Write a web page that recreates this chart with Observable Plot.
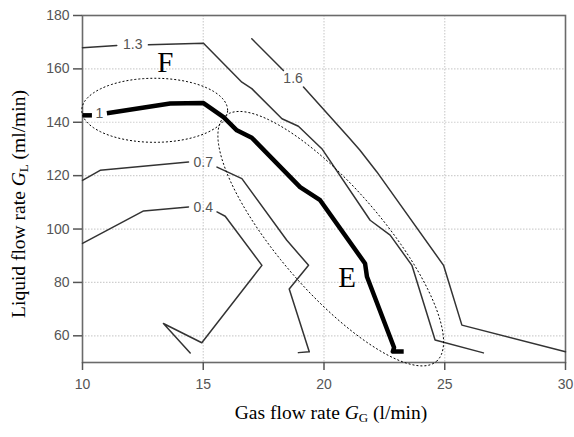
<!DOCTYPE html>
<html>
<head>
<meta charset="utf-8">
<script src="https://cdn.jsdelivr.net/npm/d3@7"></script>
<script src="https://cdn.jsdelivr.net/npm/@observablehq/plot@0.6"></script>
<style>
  html, body { margin: 0; padding: 0; background: #fff; }
  #chart { width: 574px; height: 437px; }
</style>
</head>
<body>
<div id="chart"></div>
<script>
// ---- Data (x: gas flow l/min, y: liquid flow ml/min) ----
const xTicks = [10, 15, 20, 25, 30];
const yTicks = [60, 80, 100, 120, 140, 160, 180];

const contourLevels = ["0.4", "0.7", "1", "1.3", "1.6"];

// each contour: list of segments (gaps where the level label sits)
const contour04 = [
  [[10, 94.6], [12.53, 106.8], [14.39, 108.3]],
  [[15.57, 106.4], [15.91, 104.8], [17.43, 86.4], [14.94, 57.4], [13.35, 64.6], [14.46, 53.6]]
];
const contour07 = [
  [[10, 118.2], [10.73, 122.0], [14.39, 125.1]],
  [[15.57, 123.2], [16.60, 118.9], [18.46, 95.8], [19.36, 86.4], [18.56, 77.5], [19.39, 54.0], [18.94, 53.7]]
];
const contour10 = [
  [[10, 142.6], [10.39, 142.6]],
  [[11.01, 143.4], [13.63, 147.0], [15.01, 147.2], [15.84, 141.9], [16.39, 137.0], [17.01, 134.2],
   [19.01, 115.7], [19.84, 110.8], [21.70, 87.1], [21.78, 82.1], [22.90, 55.6], [22.85, 54.1], [23.30, 54.1]]
];
const contour13 = [
  [[10, 167.9], [11.42, 168.8]],
  [[12.73, 169.0], [15.01, 169.6], [16.60, 155.0], [17.01, 152.6], [18.26, 141.3], [18.94, 138.5],
   [19.91, 130.1], [21.91, 103.3], [22.74, 97.7], [23.64, 86.4], [24.60, 58.4], [26.60, 53.6]]
];
const contour16 = [
  [[17.01, 171.3], [18.32, 159.4]],
  [[19.15, 153.2], [21.01, 134.5], [21.49, 129.5], [22.19, 121.4], [24.95, 86.4], [25.71, 64.0], [30, 54.0]]
];
const contourData = [contour04, contour07, contour10, contour13, contour16];

// label positions of each level
const labelX = [15.0, 15.0, 10.70, 12.08, 18.72];
const labelY = [108.1, 125.0, 143.2, 169.0, 156.4];

// dotted ellipses (center, end of one semi-axis, end of the conjugate semi-axis)
const ellipseNames = ["F", "E"];
const ellipseCenter = [[13.01, 144.3], [20.30, 96.2]];
const ellipseMajorEnd = [[16.03, 144.3], [24.68, 50.25]];
const ellipseMinorEnd = [[13.01, 156.3], [21.93, 108.9]];

// region letters
const regionLetters = ["F", "E"];
const regionX = [13.43, 20.96];
const regionY = [162.4, 81.6];

// ---- Build tables ----
const rows = [];
contourData.forEach((segs, li) => {
  segs.forEach((seg, si) => {
    seg.forEach(([x, y]) => rows.push({level: contourLevels[li], seg: contourLevels[li] + "-" + si, x, y}));
  });
});
const labels = contourLevels.map((l, i) => ({level: l, x: labelX[i], y: labelY[i]}));
const letters = regionLetters.map((t, i) => ({t, x: regionX[i], y: regionY[i]}));

function ellipseMark(index, scales) {
  const g = d3.create("svg:g").attr("fill", "none").attr("stroke", "#000")
    .attr("stroke-width", 1).attr("stroke-dasharray", "2,2");
  ellipseNames.forEach((n, i) => {
    const cx = scales.x(ellipseCenter[i][0]), cy = scales.y(ellipseCenter[i][1]);
    const ax = scales.x(ellipseMajorEnd[i][0]) - cx, ay = scales.y(ellipseMajorEnd[i][1]) - cy;
    const bx = scales.x(ellipseMinorEnd[i][0]) - cx, by = scales.y(ellipseMinorEnd[i][1]) - cy;
    const pts = d3.range(0, 121).map(k => {
      const t = (k / 120) * 2 * Math.PI;
      return [cx + Math.cos(t) * ax + Math.sin(t) * bx, cy + Math.cos(t) * ay + Math.sin(t) * by];
    });
    g.append("path").attr("d", d3.line()(pts) + "Z");
  });
  return g.node();
}

const plot = Plot.plot({
  width: 574,
  height: 437,
  marginLeft: 82,
  marginRight: 9,
  marginTop: 15,
  marginBottom: 75,
  style: {fontFamily: "Liberation Sans, Arial, sans-serif", fontSize: "14px", background: "#fff"},
  x: {domain: [10, 30]},
  y: {domain: [50, 180]},
  marks: [
    Plot.gridX([15, 20, 25], {stroke: "#cfcfcf", strokeOpacity: 1, strokeWidth: 1.2, strokeDasharray: "1.5,1.5"}),
    Plot.gridY([60, 80, 100, 120, 140, 160], {stroke: "#cfcfcf", strokeOpacity: 1, strokeWidth: 1.2, strokeDasharray: "1.5,1.5"}),
    Plot.frame({stroke: "#6a6a6a", strokeWidth: 1.6}),
    Plot.line(rows.filter(d => d.level !== "1"), {x: "x", y: "y", z: "seg", stroke: "#333", strokeWidth: 1.5, strokeLinejoin: "round"}),
    Plot.line(rows.filter(d => d.level === "1"), {x: "x", y: "y", z: "seg", stroke: "#000", strokeWidth: 4.5, strokeLinejoin: "round", strokeLinecap: "butt"}),
    Plot.text(labels, {x: "x", y: "y", text: "level", fill: "#555", fontSize: 14, textAnchor: "middle"}),
    ellipseMark,
    Plot.text(letters, {x: "x", y: "y", text: "t", fill: "#000", fontSize: 29, fontFamily: "Liberation Serif, Times New Roman, serif"}),
    Plot.axisX(xTicks, {anchor: "bottom", tickSize: 8, tickPadding: 9, color: "#555", strokeWidth: 1.5, fontSize: 14, label: null}),
    Plot.axisY(yTicks, {anchor: "left", tickSize: 9, tickPadding: 4, color: "#555", strokeWidth: 1.5, fontSize: 14, label: null})
  ]
});

document.getElementById("chart").appendChild(plot);

// ---- Axis titles (serif, italic symbol with subscript) ----
const svg = d3.select(plot);
const serif = "Liberation Serif, Times New Roman, serif";
const xt = svg.append("text")
  .attr("x", 331).attr("y", 419)
  .attr("text-anchor", "middle")
  .attr("font-family", serif).attr("font-size", 19.5).attr("fill", "#000");
xt.append("tspan").text("Gas flow rate ");
xt.append("tspan").attr("font-style", "italic").text("G");
xt.append("tspan").attr("font-size", 13).attr("dy", 3).text("G");
xt.append("tspan").attr("dy", -3).text(" (l/min)");

const yt = svg.append("text")
  .attr("transform", "translate(25,204) rotate(-90)")
  .attr("text-anchor", "middle")
  .attr("font-family", serif).attr("font-size", 19.5).attr("fill", "#000");
yt.append("tspan").text("Liquid flow rate ");
yt.append("tspan").attr("font-style", "italic").text("G");
yt.append("tspan").attr("font-size", 13).attr("dy", 3).text("L");
yt.append("tspan").attr("dy", -3).text(" (ml/min)");
</script>
</body>
</html>
